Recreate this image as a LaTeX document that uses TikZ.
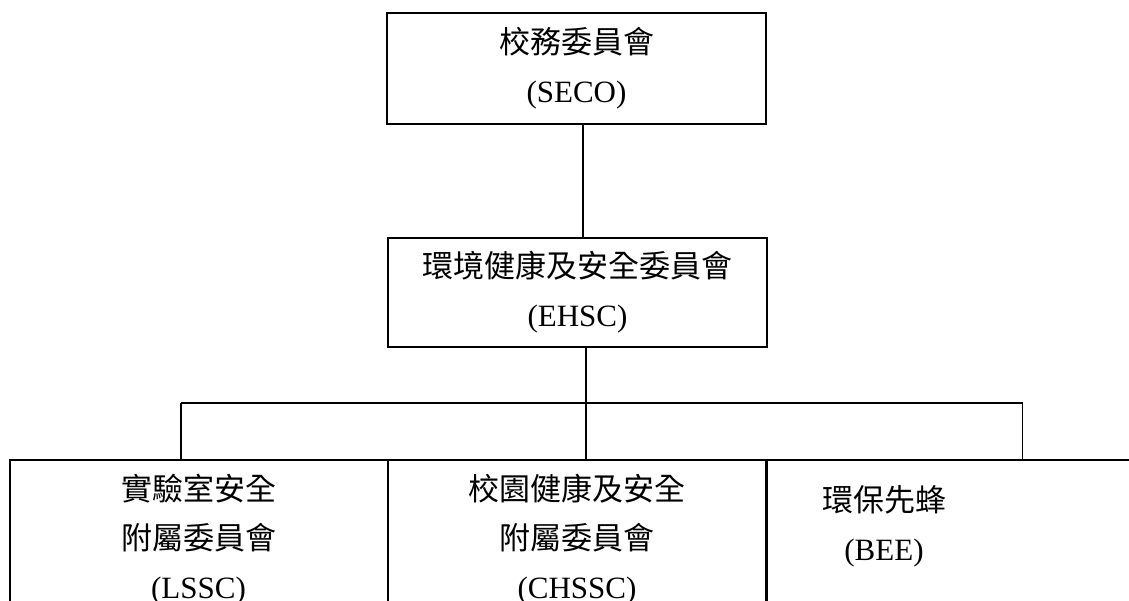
\documentclass[tikz,border=0pt]{standalone}
\usepackage{fontspec}
\setmainfont{Liberation Serif}
\newfontfamily\cjk{Noto Sans CJK TC}
\begin{document}
\begin{tikzpicture}[x=1pt,y=-1pt,
  box/.style={draw=black,line width=2pt,inner sep=0pt,align=center,
    font=\fontsize{31}{49}\selectfont},
  lbl/.style={inner sep=0pt,align=center,font=\fontsize{31}{49}\selectfont},
  conn/.style={draw=black,line width=1.4pt}]
\useasboundingbox (0,0) rectangle (1129,601);
\clip (0,0) rectangle (1129,601);
\fill[white] (0,0) rectangle (1129,601);
% top boxes
\node[box,minimum width=379pt,minimum height=111pt] (seco) at (576.5,68.5)
  {{\cjk 校務委員會}\\(SECO)};
\node[box,minimum width=379pt,minimum height=109pt] (ehsc) at (577.5,292.5)
  {{\cjk 環境健康及安全委員會}\\(EHSC)};
% bottom boxes (cut off by the page edge)
\node[box,minimum width=377.5pt,minimum height=200pt] (lssc) at (198.75,560) {};
\node[box,minimum width=378.5pt,minimum height=200pt] (chssc) at (577.25,560) {};
\node[box,minimum width=400pt,minimum height=200pt] (bee) at (966,560) {};
\node[lbl] (lsscT) at (198.5,540) {{\cjk 實驗室安全}\\{\cjk 附屬委員會}\\(LSSC)};
\node[lbl] (chsscT) at (577,540) {{\cjk 校園健康及安全}\\{\cjk 附屬委員會}\\(CHSSC)};
\node[lbl] (beeT) at (884,526) {{\cjk 環保先蜂}\\(BEE)};
% connectors
\coordinate (c1) at (583,0);
\coordinate (c2) at (586,0);
\coordinate (busL) at (181,403);
\coordinate (busM) at (586,403);
\coordinate (busR) at (1022.7,403);
\draw[conn] (seco.south -| c1) -- (ehsc.north -| c1);
\draw[conn] (ehsc.south -| c2) -- (busM);
\draw[conn] (busL) -- (busR);
\draw[conn] (busL) -- (lssc.north -| busL);
\draw[conn] (busM) -- (chssc.north -| busM);
\draw[conn] (busR) -- (bee.north -| busR);
\end{tikzpicture}
\end{document}
